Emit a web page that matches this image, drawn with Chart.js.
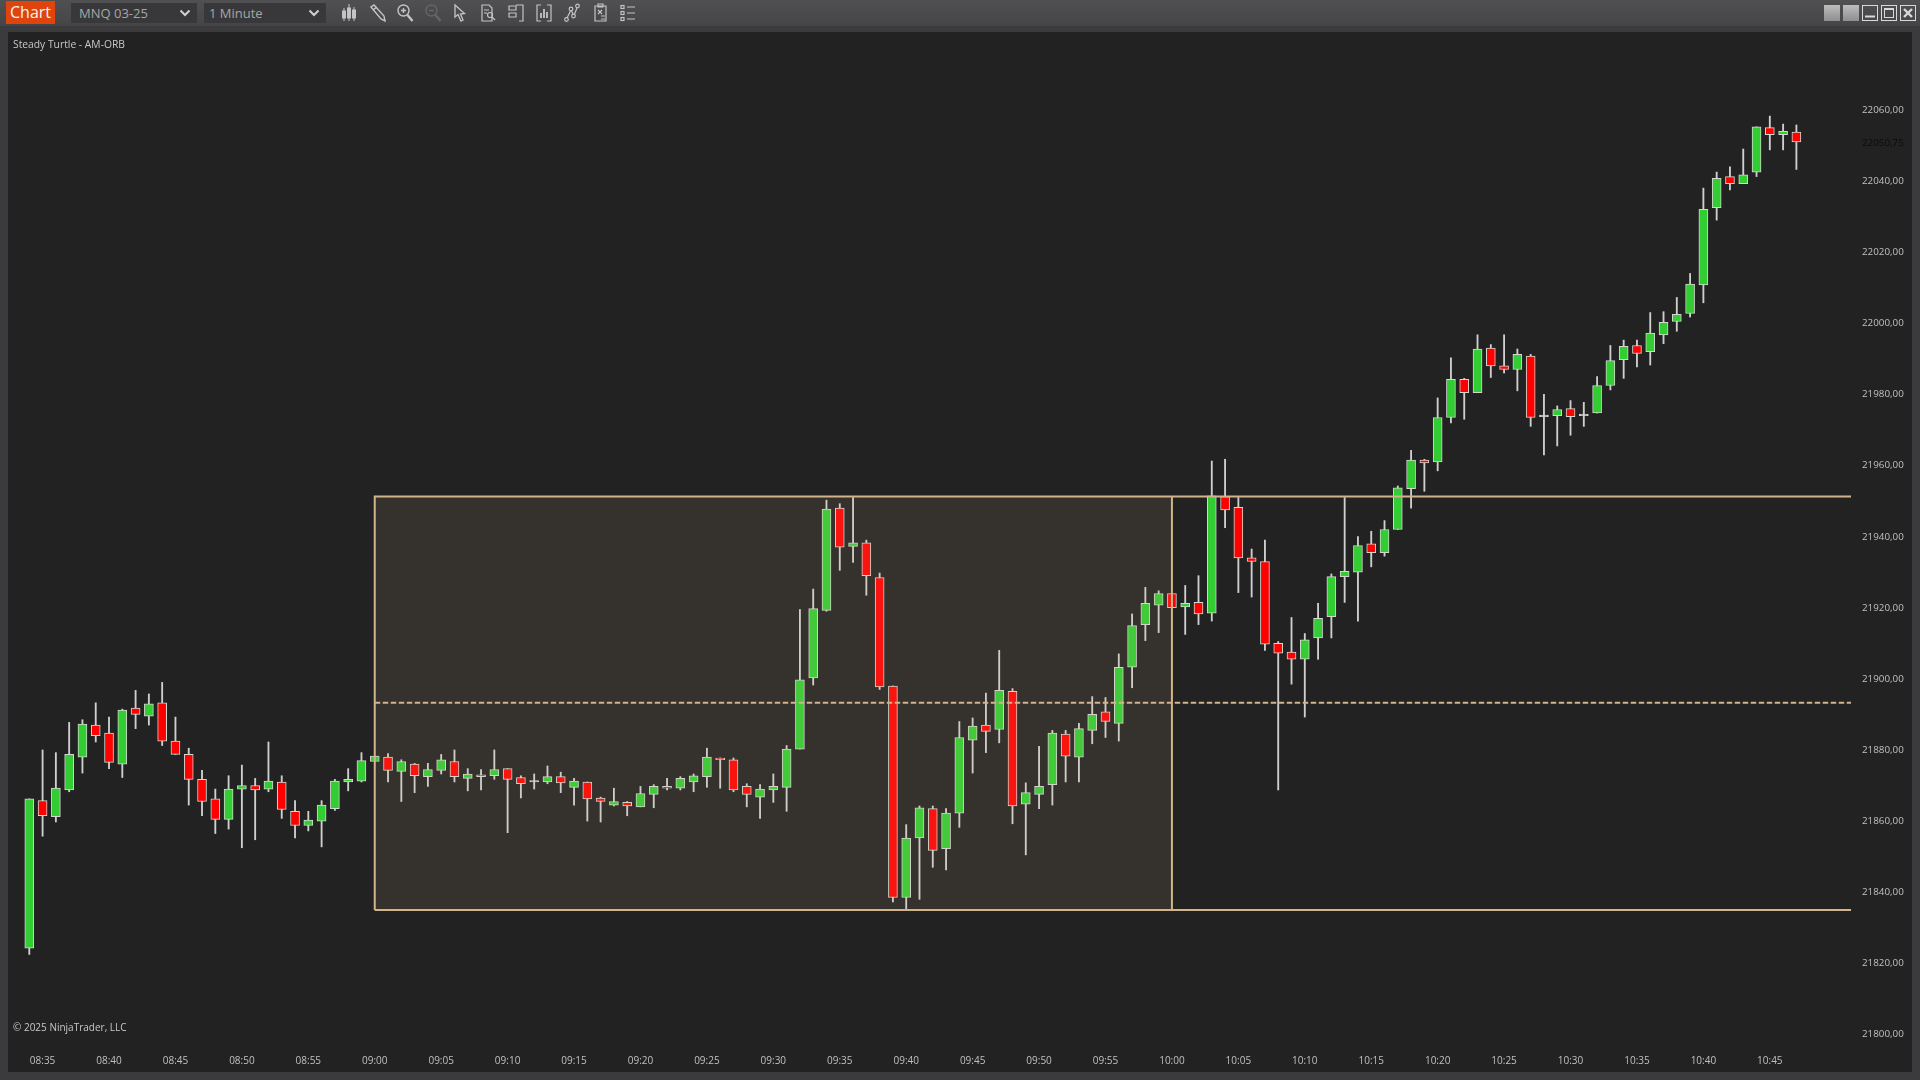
<!DOCTYPE html>
<html>
<head>
<meta charset="utf-8">
<title>MNQ 03-25 1 Minute</title>
<script src="https://cdn.jsdelivr.net/npm/chart.js@4"></script>
<style>
html, body { margin: 0; padding: 0; width: 1920px; height: 1080px; overflow: hidden; background: #3b3b3d; font-family: "Open Sans", sans-serif; }
#titlebar { position: absolute; left: 0; top: 0; width: 1920px; height: 26px; background: linear-gradient(#505052, #454547); }
#chartBtn { position: absolute; left: 6px; top: 1px; width: 49px; height: 23px; background: #de440c; color: #f4f4f4; font-size: 16px; line-height: 23px; text-align: center; }
.drop { position: absolute; top: 3px; height: 20px; background: #38383b; color: #a6a6a6; font-size: 13px; line-height: 20px; box-sizing: border-box; padding-left: 8px; }
.drop svg { position: absolute; right: 6px; top: 6px; }
.icon { position: absolute; top: 3px; }
.winbtn { position: absolute; top: 5px; width: 16px; height: 16px; box-sizing: border-box; }
#panel { position: absolute; left: 8px; top: 32px; width: 1904px; height: 1040px; background: #222222; }
.note { position: absolute; left: 13px; color: #c8c8c8; font-size: 10.3px; line-height: 14px; white-space: nowrap; }
</style>
</head>
<body>
<div id="titlebar"></div>
<div id="chartBtn">Chart</div>
<div class="drop" style="left:71px;width:126px">MNQ 03-25<svg width="12" height="8"><path d="M1.5 1.5 L6 6 L10.5 1.5" fill="none" stroke="#d0d0d0" stroke-width="2"/></svg></div>
<div class="drop" style="left:204px;width:122px;padding-left:5px">1 Minute<svg width="12" height="8"><path d="M1.5 1.5 L6 6 L10.5 1.5" fill="none" stroke="#d0d0d0" stroke-width="2"/></svg></div>
<svg class="icon" style="left:341px" width="16" height="20" fill="none" stroke="#c4c4c4"><path d="M3 5V18M8 1V18M13 4V18" stroke-width="1"/><rect x="1.5" y="8" width="3" height="7" fill="#c4c4c4"/><rect x="6.5" y="5" width="3" height="10" fill="#c4c4c4"/><rect x="11.5" y="7" width="3" height="8" fill="#c4c4c4"/></svg>
<svg class="icon" style="left:369px" width="18" height="20" fill="none" stroke="#c4c4c4" stroke-width="1.4"><path d="M2 4 L12 16 L16 18 L15 13 L5 2 Z M4 7 L8 4"/></svg>
<svg class="icon" style="left:396px" width="18" height="20" fill="none" stroke="#c4c4c4" stroke-width="1.4"><circle cx="7.5" cy="7.5" r="5.5"/><path d="M5 7.5H10M7.5 5V10"/><path d="M11.5 12 L16.5 18" stroke-width="2.4"/></svg>
<svg class="icon" style="left:424px" width="18" height="20" fill="none" stroke="#666668" stroke-width="1.4"><circle cx="7.5" cy="7.5" r="5.5"/><path d="M5 7.5H10"/><path d="M11.5 12 L16.5 18" stroke-width="2.4"/></svg>
<svg class="icon" style="left:453px" width="14" height="20" fill="none" stroke="#c4c4c4" stroke-width="1.3"><path d="M2 2 L2 14 L5 11.5 L8 18 L10 17 L7.5 11 L11.5 10.5 Z"/></svg>
<svg class="icon" style="left:480px" width="16" height="20" fill="none" stroke="#c4c4c4" stroke-width="1.2"><path d="M2 2H9L12 5V18H2Z M4 7H9 M4 10H7"/><circle cx="10" cy="12" r="2.5"/><path d="M12 14L15 17"/></svg>
<svg class="icon" style="left:508px" width="16" height="20" fill="none" stroke="#c4c4c4" stroke-width="1.2"><path d="M1 3H8V7H1Z M1 10H8V14H1Z M8 2H15V18H11"/></svg>
<svg class="icon" style="left:536px" width="16" height="20" fill="none" stroke="#c4c4c4" stroke-width="1.2"><path d="M5 2H1V18H5 M11 2H15V18H11"/><path d="M5 15V10M8 15V6M11 15V9" stroke-width="1.8"/></svg>
<svg class="icon" style="left:564px" width="16" height="20" fill="none" stroke="#c4c4c4" stroke-width="1.2"><circle cx="2.5" cy="16.5" r="1.8"/><circle cx="7" cy="6" r="1.8"/><circle cx="9.5" cy="13" r="1.8"/><circle cx="13.5" cy="3" r="1.8"/><path d="M3 15L6.5 8M7.5 8L9 11M10.5 11L13 5"/></svg>
<svg class="icon" style="left:593px" width="15" height="20" fill="none" stroke="#c4c4c4" stroke-width="1.2"><path d="M2 3H13V18H2Z M5 1H10V4H5Z"/><path d="M5 7L9 11M9 7L5 11M8 13H12M8 16H12"/></svg>
<svg class="icon" style="left:620px" width="16" height="20" fill="none" stroke="#c4c4c4" stroke-width="1.2"><rect x="1" y="2.5" width="3" height="3"/><rect x="1" y="8.5" width="3" height="3"/><rect x="1" y="14.5" width="3" height="3"/><path d="M7 4H15M7 10H15M7 16H15"/></svg>
<div class="winbtn" style="left:1824px;background:linear-gradient(#bdbdbd,#8e8e8e)"></div>
<div class="winbtn" style="left:1843px;background:linear-gradient(#bdbdbd,#8e8e8e)"></div>
<svg class="winbtn" style="left:1862px" width="16" height="16" fill="none" stroke="#d8d8d8"><rect x=".5" y=".5" width="15" height="15"/><path d="M3 11.5H13" stroke-width="2"/></svg>
<svg class="winbtn" style="left:1881px" width="16" height="16" fill="none" stroke="#d8d8d8"><rect x=".5" y=".5" width="15" height="15"/><rect x="3.5" y="3.5" width="9" height="9"/><path d="M3 4H13" stroke-width="2"/></svg>
<svg class="winbtn" style="left:1900px" width="16" height="16" fill="none" stroke="#d8d8d8"><rect x=".5" y=".5" width="15" height="15"/><path d="M4 4L12 12M12 4L4 12" stroke-width="2.4"/></svg>
<div id="panel"><canvas id="graph1" width="1904" height="1040"></canvas></div>
<div class="note" style="top:37px">Steady Turtle - AM-ORB</div>
<div class="note" style="top:1020px;font-size:10px">© 2025 NinjaTrader, LLC</div>
<script>
const times = ['08:34','08:35','08:36','08:37','08:38','08:39','08:40','08:41','08:42','08:43','08:44','08:45','08:46','08:47','08:48','08:49','08:50','08:51','08:52','08:53','08:54','08:55','08:56','08:57','08:58','08:59',
  '09:00','09:01','09:02','09:03','09:04','09:05','09:06','09:07','09:08','09:09','09:10','09:11','09:12','09:13','09:14','09:15','09:16','09:17','09:18','09:19','09:20','09:21','09:22','09:23','09:24','09:25','09:26','09:27','09:28','09:29',
  '09:30','09:31','09:32','09:33','09:34','09:35','09:36','09:37','09:38','09:39','09:40','09:41','09:42','09:43','09:44','09:45','09:46','09:47','09:48','09:49','09:50','09:51','09:52','09:53','09:54','09:55','09:56','09:57','09:58','09:59',
  '10:00','10:01','10:02','10:03','10:04','10:05','10:06','10:07','10:08','10:09','10:10','10:11','10:12','10:13','10:14','10:15','10:16','10:17','10:18','10:19','10:20','10:21','10:22','10:23','10:24','10:25','10:26','10:27','10:28','10:29',
  '10:30','10:31','10:32','10:33','10:34','10:35','10:36','10:37','10:38','10:39','10:40','10:41','10:42','10:43','10:44','10:45','10:46','10:47'];

const opens = [21824,21865.5,21861,21868.5,21877.75,21886.75,21884.5,21875.75,21891.5,21889.25,21893,21882.25,21878.5,21871.5,21866,21860.25,21868.75,21869.75,21868.75,21870.75,21862.5,21858.5,21859.75,21863.25,21870.75,21871,
  21876.5,21877.75,21873.75,21875.75,21872.25,21874,21876.5,21871.75,21872.75,21872.5,21874.5,21872,21870.75,21870.75,21872.25,21869.25,21870.75,21866.25,21864.25,21865,21863.75,21867.25,21869.5,21869,21870.75,21872.25,21877.5,21877,21869.5,21866.5,21868.5,21869.25,
  21880,21900,21919,21947.75,21937,21938,21928.25,21897.75,21838.25,21855,21863.25,21852,21862,21882.5,21886.75,21885.5,21896.25,21864.5,21867.25,21870,21884.25,21877.75,21885.25,21890.5,21887.25,21903,21915,21920.5,
  21923.75,21920,21921.25,21918.25,21951,21948,21933.75,21932.75,21909.75,21907.25,21905.25,21911.25,21917.25,21928.5,21929.75,21937.75,21935.25,21941.75,21953.25,21961.25,21960.75,21973.25,21984,21980.25,
  21992.75,21987.75,21986.75,21990.5,21973.5,21973.75,21975.75,21973.75,21974.5,21982.25,21989.5,21993.5,21991.75,21996.5,22000.25,22002.5,22010.5,22032.25,22041,22039,22042.25,22054.75,22052.75,22053.5];
const highs = [21866,21879.75,21879,21887.5,21888.25,21893,21889,21891.25,21896.5,21895.5,21898.75,21889,21880.25,21874,21868.75,21872.5,21875.5,21871.75,21882,21872.5,21865.5,21862.5,21865.5,21871.5,21874.5,21879,
  21878,21878.75,21877,21876,21876,21878.5,21879.75,21874.5,21874.25,21879.75,21874.5,21872.5,21873,21875.25,21873.5,21871.75,21870.75,21866.5,21869,21865.25,21869.5,21870,21871.75,21872.25,21873,21880.25,21877.5,21877.5,21870.25,21870,21873,21881,
  21919.25,21925,21950,21949,21950.75,21938.75,21929.5,21897.75,21858.75,21864,21864,21863.25,21887.75,21888.75,21895.75,21907.75,21897,21870.5,21880.75,21885.25,21885.25,21887.25,21894.75,21894.5,21906.75,21918,21925.5,21924.5,
  21923.75,21926,21928.75,21961,21961.5,21950.75,21936.25,21938.75,21910.25,21917,21912.5,21921,21929.25,21950.75,21939.75,21941.25,21944.25,21954,21964,21961.5,21978.75,21990,21984.25,21996.5,
  21993.75,21996.5,21992.5,21991,21979.75,21976.5,21978,21977.5,21984.75,21993.5,21995,21995,22002.75,22003,22007,22013.75,22037.75,22042.25,22043.75,22048.75,22055,22058,22055.75,22055.5];
const lows = [21822.25,21855.5,21859.5,21868,21873.25,21882,21874.5,21872,21885.75,21886.75,21881,21878.5,21864.25,21861.25,21856.25,21857.5,21852.25,21854.5,21868,21860.5,21855,21857,21852.5,21862.75,21868.25,21870.75,
  21876.5,21870.75,21865.25,21867.75,21869.5,21873,21870.75,21868.25,21868.5,21871.5,21856.5,21866.25,21868.75,21870.25,21867.75,21864.25,21859.75,21859.5,21864,21861.25,21863.75,21863.5,21868.5,21868.5,21868,21869.25,21869,21868,21863.75,21860.5,21865,21862.5,
  21880,21898,21918.75,21930.25,21932.5,21923.25,21896.75,21837,21834.75,21837.75,21846.75,21846,21858,21873.25,21879,21881.75,21859,21850.25,21863.25,21864.25,21870.75,21870.75,21881.5,21883.25,21882.25,21897.25,21910.5,21912.75,
  21919.75,21912.25,21915,21916,21942.25,21924,21922.75,21907.75,21868.5,21898.25,21889,21905.25,21911.25,21921.25,21916,21931.25,21934.25,21941.75,21947.75,21952.5,21958.25,21971.75,21972.75,21980.25,
  21984.5,21985.75,21980.75,21970.75,21962.75,21965.25,21968.25,21970.75,21974.5,21981,21984.25,21987.5,21988,21994,21997.5,22001.5,22005.5,22028.75,22037.25,22039,22041,22048.5,22048.5,22043];
const closes = [21866,21861.25,21869,21878.5,21887,21883.75,21876.25,21891,21889.75,21892.75,21882.25,21878.5,21871.5,21865.25,21860.25,21868.75,21869.75,21868.5,21871,21863,21858.5,21860,21864.25,21871,21871.5,21876.75,
  21878,21874,21876.5,21872.5,21874.25,21877,21872.25,21873,21872.25,21874.25,21871.5,21870.25,21870.75,21872.25,21870.5,21871,21866,21865.25,21865.25,21864,21867.5,21869.5,21869,21871.75,21872.5,21877.75,21877,21868.5,21867.25,21868.75,21869.5,21880,
  21899.5,21919.5,21947.5,21936.75,21938,21928.75,21897.5,21838.25,21855,21863.5,21851.5,21862,21883.25,21886.5,21885,21896.5,21864,21867.75,21869.5,21884.5,21878,21885.75,21889.75,21887.75,21903,21914.75,21921,21923.75,
  21919.75,21921,21918,21951.25,21947.25,21933.75,21932.75,21909.5,21907,21905.25,21910.75,21916.75,21928.5,21930,21937.25,21935.25,21941.75,21953.5,21961.25,21960.5,21973.25,21984,21980.25,21992.5,
  21987.75,21986.75,21991,21973.25,21973.5,21975.5,21973.5,21973.75,21982.25,21989.25,21993.25,21991.25,21997,22000,22002.25,22010.75,22031.75,22040.5,22039,22041.5,22055,22052.75,22053.75,22050.75];

const xTickLabels = ['08:35','08:40','08:45','08:50','08:55','09:00','09:05','09:10','09:15','09:20','09:25','09:30','09:35','09:40','09:45','09:50','09:55','10:00','10:05','10:10','10:15','10:20','10:25','10:30','10:35','10:40','10:45'];
const yTickLabels = [21800,21820,21840,21860,21880,21900,21920,21940,21960,21980,22000,22020,22040,22060];

const orbStart = '09:00';
const orbEnd = '10:00';
const orbHigh = 21951;
const orbMid = 21893;
const orbLow = 21834.75;
const lastPrice = 22050.75;

const toMinutes = t => {
  const parts = t.split(':');
  return Number(parts[0]) * 60 + Number(parts[1]);
};
const toPrice = v => v.toFixed(2).replace('.', ',');
const orbColor = '#d2b48c';

// opening range box, drawn over the candles like the indicator does
const orbBox = {
  id: 'orbBox',
  afterDatasetsDraw(chart) {
    const x = chart.scales.x, y = chart.scales.y, c = chart.ctx;
    const x0 = x.getPixelForValue(toMinutes(orbStart));
    const x1 = x.getPixelForValue(toMinutes(orbEnd));
    const x2 = chart.chartArea.right;
    const top = y.getPixelForValue(orbHigh), mid = y.getPixelForValue(orbMid), bot = y.getPixelForValue(orbLow);
    c.save();
    c.fillStyle = 'rgba(210,180,140,0.11)';
    c.fillRect(x0, top, x1 - x0, bot - top);
    c.strokeStyle = orbColor;
    c.lineWidth = 2;
    c.beginPath();
    c.moveTo(x0, bot); c.lineTo(x0, top); c.lineTo(x2, top);
    c.moveTo(x0, bot); c.lineTo(x2, bot);
    c.moveTo(x1, top); c.lineTo(x1, bot);
    c.stroke();
    c.setLineDash([5.5, 2.5]);
    c.beginPath();
    c.moveTo(x0, mid); c.lineTo(x2, mid);
    c.stroke();
    c.restore();
  }
};

const candleColor = ctx => {
  const i = ctx.dataIndex;
  if (closes[i] > opens[i]) return '#32cd32';
  if (closes[i] < opens[i]) return '#ff0000';
  return '#d8d8d8';
};

// the axes get fixed sizes so the plot area sits where the platform has it
const fixAxis = (s, w, h) => {
  if (w) s.width = w;
  if (h) s.height = h;
  s.paddingTop = 0; s.paddingBottom = 0; s.paddingLeft = 0; s.paddingRight = 0;
};

const ctx = document.getElementById('graph1').getContext('2d');
new Chart(ctx, {
  type: 'bar',
  data: {
    datasets: [
      {
        label: 'Wicks',
        data: times.map((t, i) => ({ x: toMinutes(t), y: [lows[i], highs[i]] })),
        backgroundColor: '#cfcfcf',
        borderWidth: 0,
        barThickness: 1.2,
        grouped: false,
        order: 2
      },
      {
        label: 'Bodies',
        data: times.map((t, i) => ({ x: toMinutes(t), y: [opens[i], closes[i]] })),
        backgroundColor: candleColor,
        borderColor: '#d4d8d0',
        borderWidth: 1,
        borderSkipped: false,
        barThickness: 9,
        minBarLength: 1.5,
        grouped: false,
        order: 1
      }
    ]
  },
  options: {
    responsive: false,
    animation: false,
    events: [],
    layout: { padding: 0 },
    plugins: { legend: { display: false }, tooltip: { enabled: false } },
    scales: {
      x: {
        type: 'linear',
        offset: false,
        min: 512.397,
        max: 651.11,
        grid: { display: false, drawTicks: false },
        border: { display: false },
        afterFit: s => fixAxis(s, 0, 24),
        afterBuildTicks: s => {
          s.ticks = xTickLabels.map(t => ({ value: toMinutes(t), label: t }));
        },
        ticks: {
          color: '#c0c0c0',
          font: { family: 'Open Sans', size: 10 },
          autoSkip: false,
          maxRotation: 0,
          padding: 7,
          callback: (v, i) => xTickLabels[i]
        }
      },
      y: {
        position: 'right',
        min: 21795.94,
        max: 22081.65,
        grid: { display: false, drawTicks: false },
        border: { display: false },
        afterFit: s => fixAxis(s, 61, 0),
        afterBuildTicks: s => {
          s.ticks = yTickLabels.concat(lastPrice).map(v => ({ value: v }));
        },
        ticks: {
          autoSkip: false,
          padding: 11,
          labelOffset: 1,
          font: { family: 'Open Sans', size: 9.8 },
          color: c => (c.tick.value === lastPrice ? '#0c0c0c' : '#c0c0c0'),
          callback: v => toPrice(v)
        }
      }
    }
  },
  plugins: [orbBox]
});
</script>
</body>
</html>
